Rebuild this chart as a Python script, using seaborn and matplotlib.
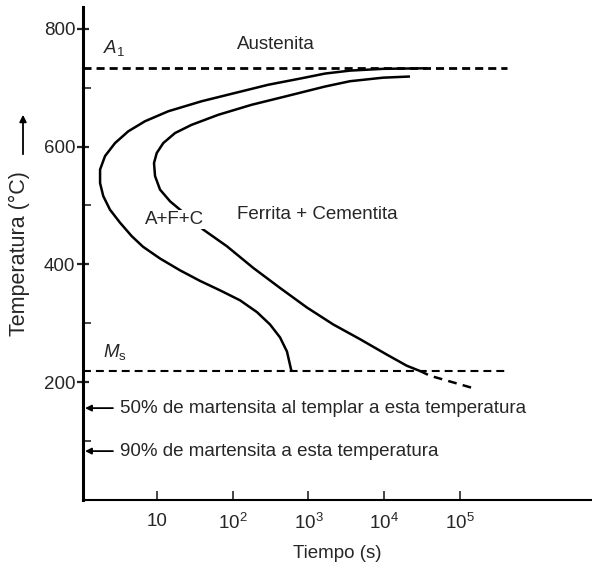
import matplotlib
matplotlib.use("Agg")
import matplotlib.pyplot as plt
import seaborn as sns
from matplotlib.ticker import FixedLocator, NullLocator, FixedFormatter

# Isothermal transformation (TTT) diagram of a eutectoid steel
# Transformation start curve (time in s, temperature in °C)
start_t = [36560, 9660, 3540, 1660, 815, 295, 107, 38.9, 14.1, 6.93, 4.18,
           2.79, 2.06, 1.77, 1.77, 1.95, 2.39, 3.24, 4.63, 6.53, 10.96, 20.1,
           37.0, 67.9, 125, 209, 311, 422, 521, 589, 600]
start_T = [733, 732, 729, 724, 716, 705, 691, 677, 660, 643, 626,
           606, 584, 561, 538, 516, 493, 471, 448, 430, 410, 390,
           372, 356, 339, 319, 298, 276, 252, 222, 219]

# Transformation finish curve
finish_t = [21980, 9660, 3540, 1660, 491, 178, 64.6, 28.7, 17.3, 12.1, 9.91,
            9.13, 9.42, 10.96, 14.9, 20.1, 28.7, 40.9, 83.4, 187, 422, 951,
            2130, 4810, 10810, 19900, 29800]
finish_T = [719, 717, 711, 702, 685, 671, 654, 637, 623, 606, 589,
            572, 550, 527, 507, 493, 476, 459, 431, 394, 360, 327,
            298, 273, 247, 228, 219]

# Finish curve continued below Ms
finish_ext_t = [29800, 40360, 168700]
finish_ext_T = [219, 211, 188]

# Critical temperatures (°C)
A1 = 734
Ms = 219
M50 = 156
M90 = 83
line_end_t = 4.2e5

x_ticks = [10, 1e2, 1e3, 1e4, 1e5]
x_labels = ["10", r"$10^2$", r"$10^3$", r"$10^4$", r"$10^5$"]
y_major = [200, 400, 600, 800]
y_minor = [100, 300, 500, 700]

sns.set_style("white")
plt.rcParams["font.family"] = ["Liberation Sans", "DejaVu Sans"]
plt.rcParams["mathtext.fontset"] = "custom"
plt.rcParams["mathtext.rm"] = "Liberation Sans"
plt.rcParams["mathtext.it"] = "Liberation Sans:italic"

FS = 13.5
fig = plt.figure(figsize=(5.92, 5.73), dpi=100)
ax = fig.add_axes([83 / 592, 1 - 500 / 573, 1 - 83 / 592, (500 - 7) / 573])
ax.set_xscale("log")
xmin, xmax = 10 ** 0.0225, 10 ** 6.746
ax.set_xlim(xmin, xmax)
ax.set_ylim(0, 837)

# Reference temperatures
ax.plot([xmin, line_end_t], [A1, A1], color="black", lw=2.0, dashes=(2.9, 1.8))
ax.plot([xmin, line_end_t], [Ms, Ms], color="black", lw=1.5, dashes=(3.8, 2.4))

# Start and finish curves
line_kw = dict(sort=False, estimator=None, color="black", lw=1.8, ax=ax)
sns.lineplot(x=start_t, y=start_T, **line_kw)
sns.lineplot(x=finish_t, y=finish_T, **line_kw)
ax.plot(finish_ext_t, finish_ext_T, color="black", lw=1.8, dashes=(3.5, 2.5))
for line in ax.lines:
    line.set_solid_joinstyle("round")
    line.set_solid_capstyle("butt")

# Region labels
ax.text(1.94, 768, r"$A_1$", fontsize=FS, va="center", ha="left")
ax.text(114, 773, "Austenita", fontsize=FS, va="center", ha="left")
ax.text(114, 485, "Ferrita + Cementita", fontsize=FS, va="center", ha="left")
ax.text(16.8, 476, "A+F+C", fontsize=FS, va="center", ha="center", zorder=5,
        bbox=dict(facecolor="white", edgecolor="none", pad=1.0))
ax.text(1.94, 251, r"$M_\mathrm{s}$", fontsize=FS, va="center", ha="left")

# Martensite fraction markers
for temp, label in [(M50, "50% de martensita al templar a esta temperatura"),
                    (M90, "90% de martensita a esta temperatura")]:
    ax.annotate("", xy=(1.12, temp), xytext=(2.62, temp),
                arrowprops=dict(arrowstyle="-|>", color="black", lw=1.3,
                                mutation_scale=9, shrinkA=0, shrinkB=0))
    ax.text(3.24, temp, label, fontsize=FS, va="center", ha="left")

# Axes styling
ax.xaxis.set_major_locator(FixedLocator(x_ticks))
ax.xaxis.set_major_formatter(FixedFormatter(x_labels))
ax.xaxis.set_minor_locator(NullLocator())
ax.yaxis.set_major_locator(FixedLocator(y_major))
ax.yaxis.set_minor_locator(FixedLocator(y_minor))
ax.tick_params(axis="x", which="major", direction="in", length=6.5, width=1.2,
               pad=9, labelsize=FS, bottom=True)
ax.tick_params(axis="y", which="major", direction="inout", length=9, width=1.6,
               pad=1, labelsize=FS, left=True)
ax.tick_params(axis="y", which="minor", direction="in", length=6, width=1.2,
               left=True)
for side in ["top", "right"]:
    ax.spines[side].set_visible(False)
ax.spines["left"].set_linewidth(2.2)
ax.spines["bottom"].set_linewidth(1.5)
ax.spines["left"].set_color("black")
ax.spines["bottom"].set_color("black")

ax.set_xlabel("Tiempo (s)", fontsize=FS, labelpad=9)
ax.set_ylabel("Temperatura (°C)", fontsize=15.5, labelpad=10)

# Upward arrow beside the temperature label
fig.patches.append(matplotlib.patches.FancyArrowPatch(
    (23 / 592, 1 - 157 / 573), (23 / 592, 1 - 112 / 573),
    transform=fig.transFigure, arrowstyle="-|>", mutation_scale=10,
    color="black", lw=1.3))

fig.savefig("out.png", dpi=100)
